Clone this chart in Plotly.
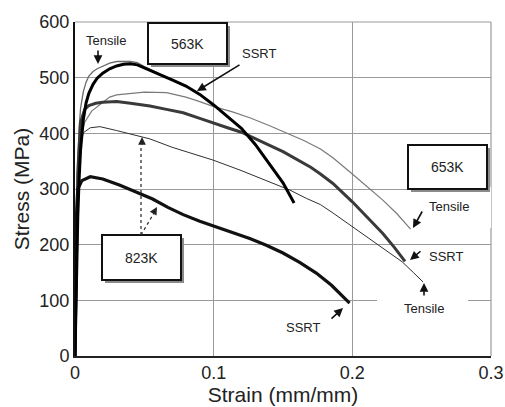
import plotly.graph_objects as go

# ---------------- data ----------------
strain_563_ssrt = [0, 0.001, 0.002, 0.003, 0.004, 0.006, 0.008, 0.01, 0.013, 0.016, 0.02, 0.025,
                   0.03, 0.035, 0.04, 0.045, 0.05, 0.06, 0.07, 0.08, 0.09, 0.1, 0.11, 0.12,
                   0.13, 0.14, 0.15, 0.158]
stress_563_ssrt = [0, 150, 250, 320, 370, 425, 455, 472, 488, 499, 508, 516,
                   521, 524, 525, 523, 518, 507, 496, 485, 470, 451, 430, 409,
                   380, 346, 311, 275]

strain_563_tens = [0, 0.001, 0.002, 0.003, 0.004, 0.006, 0.008, 0.01, 0.013, 0.016, 0.02, 0.025,
                   0.03, 0.035, 0.04, 0.045, 0.05, 0.06]
stress_563_tens = [0, 220, 350, 410, 445, 475, 492, 503, 511, 516, 521, 526,
                   529, 529, 529, 527, 520, 508]

strain_653_tens = [0, 0.001, 0.002, 0.004, 0.007, 0.012, 0.02, 0.025, 0.03, 0.04, 0.05, 0.066,
                   0.08, 0.09, 0.1, 0.113, 0.126, 0.14, 0.155, 0.165, 0.177, 0.186, 0.2,
                   0.211, 0.222, 0.232, 0.242]
stress_653_tens = [0, 180, 300, 390, 420, 440, 455, 465, 469, 472, 474, 473,
                   465, 457, 448, 439, 428, 414, 398, 387, 372, 356, 327,
                   304, 280, 256, 228]

strain_653_ssrt = [0, 0.001, 0.002, 0.004, 0.007, 0.01, 0.015, 0.02, 0.03, 0.04, 0.054, 0.066,
                   0.078, 0.09, 0.1, 0.11, 0.12, 0.13, 0.138, 0.15, 0.162, 0.17, 0.177,
                   0.186, 0.2, 0.211, 0.222, 0.23, 0.238]
stress_653_ssrt = [0, 200, 330, 420, 443, 450, 454, 456, 457, 454, 449, 443,
                   437, 427, 418, 410, 402, 391, 381, 367, 351, 339, 327,
                   310, 277, 249, 220, 196, 170]

strain_823_tens = [0, 0.001, 0.003, 0.006, 0.011, 0.018, 0.03, 0.047, 0.054, 0.07, 0.085,
                   0.0995, 0.119, 0.137, 0.155, 0.167, 0.177, 0.186, 0.2, 0.211, 0.222,
                   0.236, 0.244, 0.251]
stress_823_tens = [0, 250, 370, 401, 410, 412, 405, 394, 390, 375, 363,
                   352, 334, 316, 298, 283, 272, 257, 232, 213, 194,
                   169, 150, 133]

strain_823_ssrt = [0, 0.0005, 0.001, 0.002, 0.005, 0.011, 0.02, 0.032, 0.044, 0.056, 0.067,
                   0.078, 0.09, 0.102, 0.114, 0.126, 0.138, 0.15, 0.162, 0.174, 0.185,
                   0.196, 0.198]
stress_823_ssrt = [0, 150, 250, 300, 315, 322, 318, 307, 295, 282, 267,
                   254, 242, 232, 222, 211, 199, 185, 168, 149, 127,
                   100, 95]

x_ticks = [0, 0.1, 0.2, 0.3]
x_tick_labels = ["0", "0.1", "0.2", "0.3"]
y_ticks = [0, 100, 200, 300, 400, 500, 600]
y_tick_labels = ["0", "100", "200", "300", "400", "500", "600"]

# ---------------- layout geometry ----------------
W, H = 505, 407
ML, MR, MT, MB = 75, 14, 22, 51
X0, X1 = 0.0, 0.3
Y0, Y1 = 0.0, 600.0
PW, PH = W - ML - MR, H - MT - MB


def dx(px):
    return X0 + (px - ML) / PW * (X1 - X0)


def dy(py):
    return Y0 + (H - MB - py) / PH * (Y1 - Y0)


FONT = "Liberation Sans, Arial, sans-serif"

fig = go.Figure()


def add_curve(x, y, color, width, name):
    fig.add_trace(go.Scatter(x=x, y=y, mode="lines", name=name,
                             line=dict(color=color, width=width, shape="linear"),
                             showlegend=False, hoverinfo="skip"))


add_curve(strain_653_tens, stress_653_tens, "#7a7a7a", 1.2, "653K Tensile")
add_curve(strain_823_tens, stress_823_tens, "#303030", 1.0, "823K Tensile")
add_curve(strain_563_tens, stress_563_tens, "#6a6a6a", 1.3, "563K Tensile")
add_curve(strain_653_ssrt, stress_653_ssrt, "#3a3a3a", 3.0, "653K SSRT")
add_curve(strain_823_ssrt, stress_823_ssrt, "#111111", 3.2, "823K SSRT")
add_curve(strain_563_ssrt, stress_563_ssrt, "#000000", 3.0, "563K SSRT")

shapes = []
# top & right frame lines (gray)
shapes.append(dict(type="line", xref="paper", yref="paper", x0=0, x1=1, y0=1, y1=1,
                   line=dict(color="#9a9a9a", width=1.2), layer="below"))
shapes.append(dict(type="line", xref="paper", yref="paper", x0=1, x1=1, y0=0, y1=1,
                   line=dict(color="#9a9a9a", width=1.2), layer="below"))
# white gaps behind labels
for (a, b, c, d) in [(486, 187, 496, 228), (377, 298, 468, 304)]:
    shapes.append(dict(type="rect", xref="x", yref="y", x0=dx(a), x1=dx(c),
                       y0=dy(b), y1=dy(d), fillcolor="white", line=dict(width=0), layer="above"))

# boxes with shadow
boxes = [("563K", 148, 23, 227, 64), ("653K", 408, 145, 487, 189), ("823K", 102, 235, 181, 280)]
for (txt, a, b, c, d) in boxes:
    shapes.append(dict(type="rect", xref="x", yref="y", x0=dx(a + 3), x1=dx(c + 3),
                       y0=dy(b + 3), y1=dy(d + 3), fillcolor="#8a8a8a",
                       line=dict(width=0), layer="above"))
    shapes.append(dict(type="rect", xref="x", yref="y", x0=dx(a), x1=dx(c),
                       y0=dy(b), y1=dy(d), fillcolor="white",
                       line=dict(color="#111111", width=2), layer="above"))

# dotted leaders from 823K box
shapes.append(dict(type="line", xref="x", yref="y", x0=dx(141), y0=dy(235), x1=dx(141), y1=dy(145),
                   line=dict(color="#333333", width=1.3, dash="dot"), layer="above"))
shapes.append(dict(type="line", xref="x", yref="y", x0=dx(141), y0=dy(235), x1=dx(154), y1=dy(213),
                   line=dict(color="#333333", width=1.3, dash="dot"), layer="above"))

annotations = []
for (txt, a, b, c, d) in boxes:
    annotations.append(dict(x=dx((a + c) / 2), y=dy((b + d) / 2), xref="x", yref="y",
                            text=txt, showarrow=False,
                            font=dict(family=FONT, size=14, color="#222222")))

labels = [("Tensile", 106, 40), ("SSRT", 259, 53), ("Tensile", 449, 206),
          ("SSRT", 446, 256), ("Tensile", 424, 308), ("SSRT", 303, 327)]
for (txt, px, py) in labels:
    annotations.append(dict(x=dx(px), y=dy(py), xref="x", yref="y", text=txt,
                            showarrow=False, font=dict(family=FONT, size=13, color="#222222")))

# solid arrows: (head_x, head_y, tail_x, tail_y)
arrows = [(98, 64, 98, 49), (197, 91, 241, 64), (413, 228, 423, 210),
          (410, 260, 422, 250), (424, 283, 424, 297), (343, 308, 330, 320)]
for (hx, hy, tx, ty) in arrows:
    annotations.append(dict(x=dx(hx), y=dy(hy), xref="x", yref="y", text="",
                            showarrow=True, ax=tx - hx, ay=ty - hy,
                            arrowhead=2, arrowsize=1.1, arrowwidth=1.6, arrowcolor="#111111"))
# heads of dotted arrows
for (hx, hy, tx, ty) in [(142, 137, 142, 146), (157, 207, 153, 214)]:
    annotations.append(dict(x=dx(hx), y=dy(hy), xref="x", yref="y", text="",
                            showarrow=True, ax=tx - hx, ay=ty - hy,
                            arrowhead=2, arrowsize=1.1, arrowwidth=1.4, arrowcolor="#222222"))

fig.update_layout(
    width=W, height=H,
    margin=dict(l=ML, r=MR, t=MT, b=MB, pad=0),
    paper_bgcolor="white", plot_bgcolor="white",
    font=dict(family=FONT, color="#222222"),
    shapes=shapes, annotations=annotations,
    xaxis=dict(range=[X0, X1], tickvals=x_ticks, ticktext=x_tick_labels,
               showgrid=True, gridcolor="#9a9a9a", gridwidth=1, automargin=False,
               showline=True, linecolor="#222222", linewidth=1.6,
               zeroline=False, ticks="", tickfont=dict(size=18, color="#222222"),
               title=dict(text="Strain (mm/mm)", font=dict(size=21, color="#222222"), standoff=0)),
    yaxis=dict(range=[Y0, Y1], tickvals=y_ticks, ticktext=y_tick_labels,
               showgrid=True, gridcolor="#9a9a9a", gridwidth=1, automargin=False,
               showline=True, linecolor="#111111", linewidth=2,
               zeroline=False, ticks="", tickfont=dict(size=18, color="#222222"),
               title=dict(text="Stress (MPa)", font=dict(size=21, color="#222222"), standoff=4)),
)

fig.write_html("out.html", config={"displayModeBar": False},
               post_script="document.body.style.margin='0';document.body.style.overflow='hidden';")
